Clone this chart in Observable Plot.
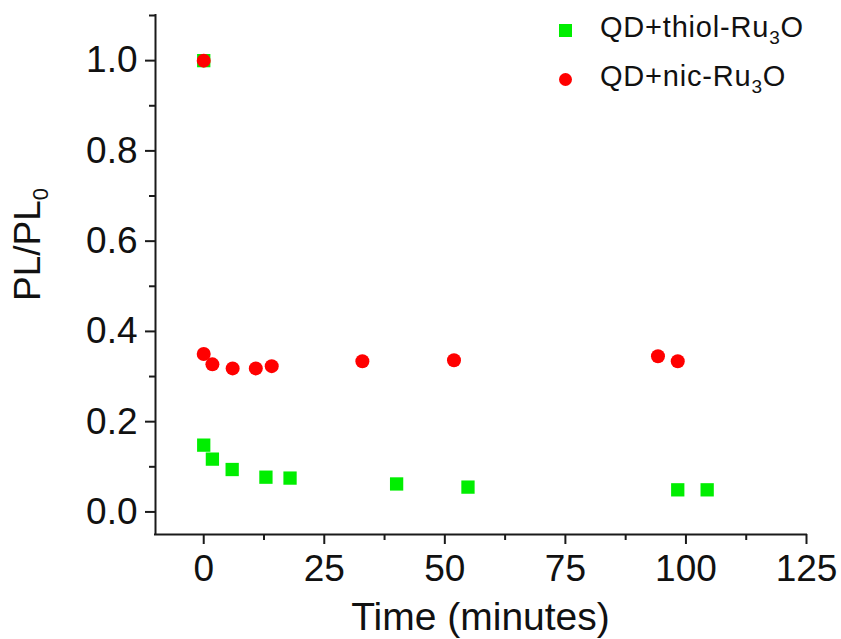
<!DOCTYPE html>
<html>
<head>
<meta charset="utf-8">
<script src="https://cdn.jsdelivr.net/npm/d3@7"></script>
<script src="https://cdn.jsdelivr.net/npm/@observablehq/plot@0.6"></script>
<style>
  body { margin: 0; background: #fff; font-family: "Liberation Sans", Arial, sans-serif; }
  #wrap { position: relative; width: 841px; height: 639px; }
  .sym { position: absolute; }
  .ltext { position: absolute; font-size: 29px; letter-spacing: 0.8px; line-height: 30px; color: #111; white-space: nowrap; }
  .ltext sub { font-size: 19px; vertical-align: -7px; line-height: 0; }
</style>
</head>
<body>
<div id="wrap"></div>
<script>
// ---- data ----
const seriesNames = ["QD+thiol-Ru", "QD+nic-Ru"];   // followed by subscript 3 and "O"
const seriesColors = ["#00ee00", "#ff0000"];

const timeThiol = [0, 0, 1.8, 5.9, 12.9, 17.9, 40, 54.8, 98.3, 104.4];
const plThiol   = [1.0, 0.148, 0.117, 0.094, 0.077, 0.075, 0.062, 0.055, 0.049, 0.049];

const timeNic = [0, 0, 1.8, 6.0, 10.8, 14.1, 32.9, 51.9, 94.2, 98.3];
const plNic   = [1.0, 0.350, 0.327, 0.318, 0.318, 0.323, 0.334, 0.336, 0.345, 0.334];

const xMajor = [0, 25, 50, 75, 100, 125];
const xMinor = [12.5, 37.5, 62.5, 87.5, 112.5];
const yMajor = [0, 0.2, 0.4, 0.6, 0.8, 1.0];
const yMinor = [0.1, 0.3, 0.5, 0.7, 0.9, 1.1];

const xLabel = "Time (minutes)";

// ---- build ----
const thiol = timeThiol.map((t, i) => ({t, v: plThiol[i]}));
const nic = timeNic.map((t, i) => ({t, v: plNic[i]}));

const axisColor = "#1a1a1a";
const chart = Plot.plot({
  width: 841,
  height: 639,
  marginLeft: 155,
  marginRight: 35,
  marginTop: 15,
  marginBottom: 105,
  x: {domain: [-10, 125]},
  y: {domain: [-0.05, 1.1]},
  style: {fontFamily: "'Liberation Sans', Arial, sans-serif", color: "#111", background: "transparent", overflow: "visible"},
  marks: [
    Plot.axisX({ticks: xMajor, tickSize: 10, tickPadding: 10, fontSize: 37, strokeWidth: 2, stroke: axisColor, tickFormat: d => String(d), label: null}),
    Plot.axisX({ticks: xMinor, tickSize: 6, strokeWidth: 2, stroke: axisColor, tickFormat: () => "", label: null}),
    Plot.axisY({ticks: yMajor, tickSize: 10, tickPadding: 8, fontSize: 37, strokeWidth: 2, stroke: axisColor, tickFormat: d3.format(".1f"), label: null}),
    Plot.axisY({ticks: yMinor, tickSize: 6, strokeWidth: 2, stroke: axisColor, tickFormat: () => "", label: null}),
    Plot.ruleX([-10], {stroke: axisColor, strokeWidth: 2, strokeLinecap: "square"}),
    Plot.ruleY([-0.05], {stroke: axisColor, strokeWidth: 2, strokeLinecap: "square"}),
    Plot.dot(thiol, {x: "t", y: "v", symbol: "square", r: 7.5, fill: seriesColors[0], stroke: "none"}),
    Plot.dot(nic, {x: "t", y: "v", symbol: "circle", r: 7, fill: seriesColors[1], stroke: "none"})
  ]
});

const wrap = document.getElementById("wrap");
wrap.appendChild(chart);

// axis titles (with subscript)
const xr = chart.scale("x").range;
const yr = chart.scale("y").range;
const svg = d3.select(chart);
svg.append("text")
  .attr("x", (xr[0] + xr[1]) / 2)
  .attr("y", 630)
  .attr("text-anchor", "middle")
  .attr("font-size", 39)
  .attr("fill", "#111")
  .text(xLabel);

const yt = svg.append("text")
  .attr("transform", `translate(40,${(yr[0] + yr[1]) / 2 - 30}) rotate(-90)`)
  .attr("text-anchor", "middle")
  .attr("font-size", 37)
  .attr("fill", "#111");
yt.append("tspan").text("PL/PL");
yt.append("tspan").attr("font-size", 22).attr("dy", 8).text("0");

// legend
const symCx = 565, rowY = [30, 79], textLeft = 600;
seriesNames.forEach((name, i) => {
  const s = document.createElement("div");
  s.className = "sym";
  const size = 13;
  s.style.left = (symCx - size / 2) + "px";
  s.style.top = (rowY[i] - size / 2) + "px";
  s.style.width = size + "px";
  s.style.height = size + "px";
  s.style.background = seriesColors[i];
  if (i === 1) s.style.borderRadius = "50%";
  wrap.appendChild(s);
  const t = document.createElement("div");
  t.className = "ltext";
  t.style.left = textLeft + "px";
  t.style.top = (rowY[i] - 18) + "px";
  t.innerHTML = name + "<sub>3</sub>O";
  wrap.appendChild(t);
});
</script>
</body>
</html>
